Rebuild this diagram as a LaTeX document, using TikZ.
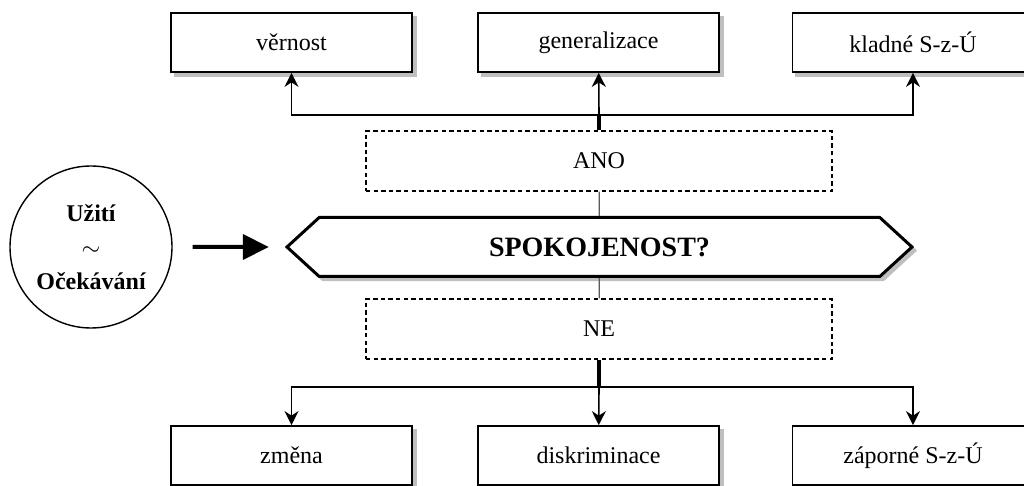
\documentclass[tikz,border=0pt]{standalone}
\usepackage{fontspec}
\setmainfont{Liberation Serif}
\usetikzlibrary{arrows.meta}
\usetikzlibrary{shapes.symbols}

\begin{document}
\begin{tikzpicture}[x=0.5pt,y=-0.5pt,
    font=\fontsize{12}{17}\selectfont,
    % styles
    shade below/.style={preaction={draw=gray!50,line width=1pt,fill=gray!50,
      transform canvas={shift={(1.8pt,-1.8pt)}}}},
    outcome box/.style={draw,line width=0.9pt,fill=white,minimum width=120.5pt,
      minimum height=29.5pt,inner sep=0pt,shade below},
    answer box/.style={draw,line width=0.6pt,dash pattern=on 2.2pt off 1.6pt,
      minimum width=233pt,minimum height=30pt,inner sep=0pt},
    question/.style={shape=signal,signal to=west and east,signal pointer angle=85,
      draw,line width=1.5pt,fill=white,minimum width=312.5pt,minimum height=29.5pt,
      inner sep=0pt,font=\fontsize{14}{17}\selectfont\bfseries,shade below},
    source/.style={circle,draw,line width=0.7pt,minimum size=81pt,inner sep=0pt,
      align=center,font=\fontsize{12}{17}\selectfont\bfseries},
    link line/.style={line width=0.8pt,-{Stealth[length=7pt,width=7pt]}},
    trunk line/.style={line width=1.7pt},
    thin link/.style={gray!70!black,line width=0.6pt},
    big arrow/.style={line width=2pt,-{Triangle[length=13pt,width=12.5pt]}}]

  \useasboundingbox (0,0) rectangle (1024,486);

  % source
  \node[source] (usage) at (91,247) {Užití\\$\sim$\\Očekávání};

  % question
  \node[question] (satisfied) at (599.5,247) {SPOKOJENOST?};
  \draw[big arrow,shorten <=10pt,shorten >=8pt] (usage) -- (satisfied);

  % answers
  \node[answer box] (yes) at (599,161) {ANO};
  \node[answer box] (no) at (599,329) {NE};
  \draw[thin link] (yes) -- (satisfied);
  \draw[thin link] (satisfied) -- (no);

  % positive outcomes
  \node[outcome box] (loyalty) at (291.5,42.5) {věrnost};
  \node[outcome box] (general) at (598.5,42.5) {generalizace};
  \node[outcome box] (positive) at (913,42.5) {kladné S-z-Ú};

  % negative outcomes
  \node[outcome box] (change) at (291.5,455.5) {změna};
  \node[outcome box] (discrim) at (598.5,455.5) {diskriminace};
  \node[outcome box] (negative) at (913,455.5) {záporné S-z-Ú};

  % connectors
  \coordinate (top bar) at (599,115);
  \coordinate (bottom bar) at (599,387);
  \draw[trunk line] (yes) -- (top bar);
  \draw[link line] (top bar) -| (loyalty);
  \draw[link line] (top bar) -- (general);
  \draw[link line] (top bar) -| (positive);
  \draw[trunk line] (no) -- (bottom bar);
  \draw[link line] (bottom bar) -| (change);
  \draw[link line] (bottom bar) -- (discrim);
  \draw[link line] (bottom bar) -| (negative);
\end{tikzpicture}
\end{document}
